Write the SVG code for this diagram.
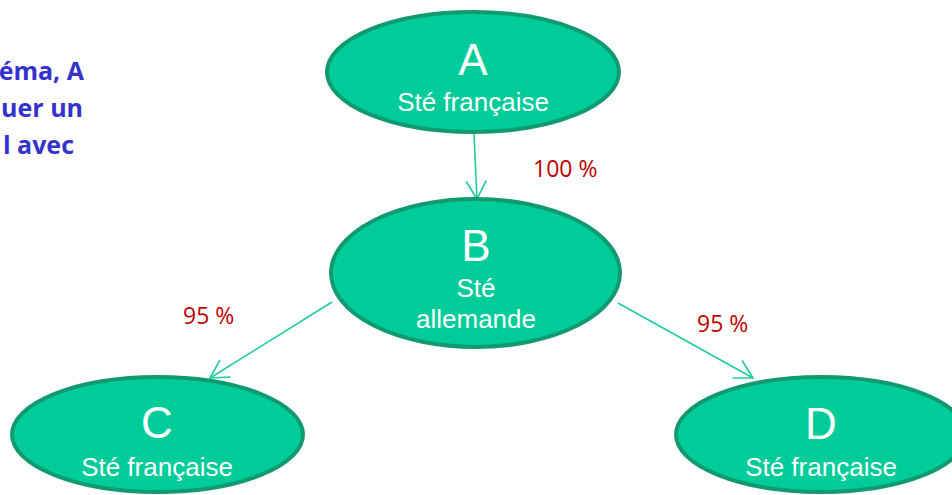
<svg xmlns="http://www.w3.org/2000/svg" width="952" height="495" viewBox="0 0 952 495">
<style>
.node{fill:#00CC99;stroke:#119A6F;stroke-width:4}
.big{font-family:"Liberation Sans",Arial,sans-serif;font-size:44px;fill:#fff;text-anchor:middle}
.sub{font-family:"Liberation Sans",Arial,sans-serif;font-size:26px;fill:#fff;text-anchor:middle}
.pct{font-family:"Open Sans","Liberation Sans",sans-serif;font-size:23px;fill:#C00000}
.side{font-family:"Open Sans","Liberation Sans",sans-serif;font-size:25px;font-weight:bold;fill:#3333CC;text-anchor:end}
.edge{stroke:#1FCC9C;stroke-width:1.6;fill:none}
</style>
<defs>
<marker id="arr" markerUnits="userSpaceOnUse" markerWidth="24" markerHeight="24" viewBox="-20 -12 22 24" refX="0" refY="0" orient="auto">
<path d="M-18,-10 L0,0 L-18,10" fill="none" stroke="#1FCC9C" stroke-width="1.6"/>
</marker>
</defs>
<rect width="952" height="495" fill="#fff"/>
<g id="side-text">
<text class="side" x="84" y="80">éma, A</text>
<text class="side" x="83" y="117">uer un</text>
<text class="side" x="74" y="154">l avec</text>
</g>
<g id="connectors">
<line class="edge" x1="474" y1="134" x2="477" y2="199" marker-end="url(#arr)"/>
<line class="edge" x1="332" y1="302" x2="210" y2="378" marker-end="url(#arr)"/>
<line class="edge" x1="618" y1="303" x2="753" y2="378" marker-end="url(#arr)"/>
<text class="pct" x="533" y="177">100 %</text>
<text class="pct" x="183" y="324">95 %</text>
<text class="pct" x="697" y="332">95 %</text>
</g>
<g id="A">
<ellipse class="node" cx="473" cy="72" rx="146" ry="60"/>
<text class="big" x="473" y="75">A</text>
<text class="sub" x="473" y="111">Sté française</text>
</g>
<g id="B">
<ellipse class="node" cx="475.5" cy="273" rx="144.5" ry="74"/>
<text class="big" x="476" y="261">B</text>
<text class="sub" x="476" y="297">Sté</text>
<text class="sub" x="476" y="328">allemande</text>
</g>
<g id="C">
<ellipse class="node" cx="157.5" cy="434.5" rx="145.5" ry="57.5"/>
<text class="big" x="157" y="438">C</text>
<text class="sub" x="157" y="476">Sté française</text>
</g>
<g id="D">
<ellipse class="node" cx="821" cy="434.5" rx="145" ry="57.5"/>
<text class="big" x="821" y="439">D</text>
<text class="sub" x="821" y="476">Sté française</text>
</g>
</svg>
